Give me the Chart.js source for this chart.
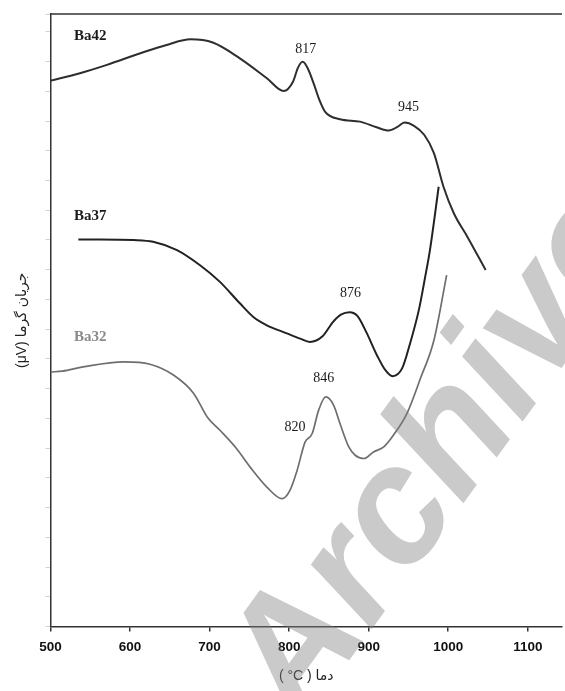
<!DOCTYPE html>
<html>
<head>
<meta charset="utf-8">
<script src="https://cdn.jsdelivr.net/npm/chart.js@4/dist/chart.umd.min.js"></script>
<style>
  html, body { margin: 0; padding: 0; background: #fff; }
  #wrap { width: 565px; height: 691px; }
</style>
</head>
<body>
<div id="wrap"><canvas id="c" width="565" height="691"></canvas></div>
<script>
// DTA curves: temperature (°C) against heat flow (arbitrary µV units)
const seriesNames = ['Ba42', 'Ba37', 'Ba32'];

const ba42Temp = [500, 537, 571, 613, 646, 676, 704, 738, 772, 793, 805, 811, 817, 823, 831, 838, 845, 864, 889, 910, 925, 936, 945, 957, 970, 982, 994, 1007, 1024, 1047];
const ba42Val  = [18.36, 18.61, 18.89, 19.28, 19.56, 19.75, 19.64, 19.11, 18.44, 18.01, 18.33, 18.79, 18.99, 18.79, 18.25, 17.71, 17.32, 17.06, 16.98, 16.79, 16.68, 16.80, 16.95, 16.84, 16.53, 15.92, 14.79, 13.90, 13.11, 11.99];

const ba37Temp = [535, 562, 604, 629, 659, 688, 713, 738, 755, 772, 797, 814, 826, 842, 855, 865, 876, 886, 897, 911, 921, 930, 942, 952, 963, 971, 977, 988];
const ba37Val  = [13.02, 13.02, 13.00, 12.94, 12.66, 12.15, 11.59, 10.87, 10.41, 10.13, 9.86, 9.68, 9.57, 9.76, 10.24, 10.49, 10.57, 10.44, 9.90, 9.09, 8.62, 8.42, 8.68, 9.52, 10.64, 11.76, 12.66, 14.79];

const ba32Temp = [500, 515, 541, 592, 625, 655, 680, 697, 713, 734, 751, 772, 791, 801, 810, 820, 829, 837, 846, 856, 864, 875, 883, 894, 906, 919, 931, 948, 965, 982, 998];
const ba32Val  = [8.56, 8.59, 8.73, 8.90, 8.82, 8.45, 7.84, 7.05, 6.60, 5.98, 5.36, 4.69, 4.30, 4.58, 5.25, 6.20, 6.49, 7.27, 7.72, 7.44, 6.82, 6.04, 5.76, 5.65, 5.87, 6.04, 6.43, 7.16, 8.34, 9.63, 11.82];

// marked peak temperatures for each curve
const ba42Peaks = [817, 945];
const ba37Peaks = [876];
const ba32Peaks = [820, 846];

const xTicks = [500, 600, 700, 800, 900, 1000, 1100];

const toPoints = (t, v) => t.map((x, i) => ({ x, y: v[i] }));

// where each curve name sits, in axis units
const nameAnchors = [[550, 19.87], [550, 13.80], [550, 9.73]];
const nameColors = ['#1a1a1a', '#1a1a1a', '#8a8a8a'];
// pixel nudge of each peak number from its point
const peakOffsets = { 817: [3, -13], 945: [4, -15], 876: [1, -19], 846: [-2, -19], 820: [-10, -15] };

const annotate = {
  id: 'annotate',
  afterDatasetsDraw(chart) {
    const { ctx, scales: { x, y }, chartArea } = chart;
    ctx.save();
    // frame line along the top
    ctx.strokeStyle = '#333';
    ctx.lineWidth = 1.5;
    ctx.beginPath();
    ctx.moveTo(chartArea.left, chartArea.top);
    ctx.lineTo(chartArea.right, chartArea.top);
    ctx.stroke();

    // curve names
    ctx.textAlign = 'center';
    ctx.textBaseline = 'middle';
    ctx.font = 'bold 15px "Liberation Serif", "Times New Roman", serif';
    seriesNames.forEach((n, i) => {
      ctx.fillStyle = nameColors[i];
      ctx.fillText(n, x.getPixelForValue(nameAnchors[i][0]), y.getPixelForValue(nameAnchors[i][1]));
    });

    // peak temperatures
    ctx.font = '14px "Liberation Serif", "Times New Roman", serif';
    ctx.fillStyle = '#1a1a1a';
    const peakSets = [ba42Peaks, ba37Peaks, ba32Peaks];
    chart.data.datasets.forEach((ds, di) => {
      peakSets[di].forEach(t => {
        const p = ds.data.find(d => d.x === t);
        if (!p) return;
        const off = peakOffsets[t] || [0, -14];
        ctx.fillText(String(t), x.getPixelForValue(p.x) + off[0], y.getPixelForValue(p.y) + off[1]);
      });
    });
    ctx.restore();
  },
  afterDraw(chart) {
    // faint archive stamp across the lower right
    const { ctx } = chart;
    ctx.save();
    ctx.translate(300, 728);
    ctx.rotate(-54 * Math.PI / 180);
    ctx.font = 'italic bold 165px "Liberation Sans", Arial, sans-serif';
    ctx.fillStyle = 'rgba(128,128,128,0.42)';
    ctx.textAlign = 'left';
    ctx.textBaseline = 'alphabetic';
    ctx.fillText('Archive', 0, 0);
    ctx.restore();
  }
};

new Chart(document.getElementById('c'), {
  type: 'line',
  data: {
    datasets: [
      { label: seriesNames[0], data: toPoints(ba42Temp, ba42Val), borderColor: '#2e2e2e', borderWidth: 2 },
      { label: seriesNames[1], data: toPoints(ba37Temp, ba37Val), borderColor: '#222222', borderWidth: 2 },
      { label: seriesNames[2], data: toPoints(ba32Temp, ba32Val), borderColor: '#6e6e6e', borderWidth: 1.7 }
    ]
  },
  options: {
    responsive: false,
    animation: false,
    events: [],
    layout: { padding: { top: 14, right: 3, left: 0, bottom: 0 } },
    elements: {
      point: { radius: 0 },
      line: { cubicInterpolationMode: 'monotone', fill: false }
    },
    plugins: { legend: { display: false }, tooltip: { enabled: false } },
    scales: {
      x: {
        type: 'linear',
        min: 500,
        max: 1143,
        afterBuildTicks: s => { s.ticks = xTicks.map(v => ({ value: v })); },
        afterFit: s => { s.height = 64.5; },
        grid: { drawOnChartArea: false, drawTicks: true, tickLength: 5, color: '#333', lineWidth: 1.5 },
        border: { display: true, color: '#333', width: 1.5 },
        ticks: {
          color: '#111',
          padding: 8,
          maxRotation: 0,
          callback: v => String(v),
          font: { family: '"Liberation Sans", Arial, sans-serif', size: 13.5, weight: 'bold' }
        },
        title: {
          display: true,
          text: '( °C ) دما',
          color: '#222',
          font: { family: '"Liberation Sans", "DejaVu Sans", sans-serif', size: 14 },
          padding: { top: 0, bottom: 6 }
        }
      },
      y: {
        type: 'linear',
        min: 0,
        max: 20.6,
        afterFit: s => { s.width = 50.5; },
        ticks: { display: false, stepSize: 1 },
        grid: { drawOnChartArea: false, drawTicks: true, tickLength: 5, color: '#d2d2d2' },
        border: { display: true, color: '#333', width: 1.5 },
        title: {
          display: true,
          text: '(μV) جریان گرما',
          color: '#222',
          font: { family: '"Liberation Sans", "DejaVu Sans", sans-serif', size: 14 },
          padding: { top: 14, bottom: 0 }
        }
      }
    }
  },
  plugins: [annotate]
});
</script>
</body>
</html>
